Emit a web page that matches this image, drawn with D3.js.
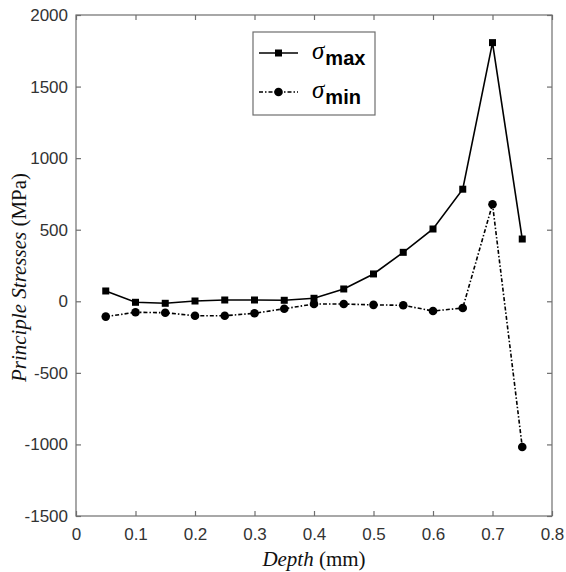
<!DOCTYPE html>
<html><head><meta charset="utf-8">
<script src="https://cdn.jsdelivr.net/npm/d3@7"></script>
<style>body{margin:0;background:#fff}</style>
</head><body>
<svg id="c" width="566" height="572"></svg>
<script>
const depth = [0.05,0.1,0.15,0.2,0.25,0.3,0.35,0.4,0.45,0.5,0.55,0.6,0.65,0.7,0.75];
const sigmaMax = [72,-7,-14,2,9,9,7,21,86,191,342,505,783,1807,435];
const sigmaMin = [-107,-77,-80,-101,-101,-84,-52,-19,-19,-25,-28,-68,-47,678,-1018];
const xTicks = [0,0.1,0.2,0.3,0.4,0.5,0.6,0.7,0.8];
const yTicks = [-1500,-1000,-500,0,500,1000,1500,2000];

const svg = d3.select("#c");
const L=76, R=552, T=15, B=516;
const x = d3.scaleLinear().domain([0,0.8]).range([L,R]);
const y = d3.scaleLinear().domain([-1500,2000]).range([B,T]);
const axisCol = "#6e6e6e", txtCol="#333";

svg.append("rect").attr("x",L).attr("y",T).attr("width",R-L).attr("height",B-T)
  .attr("fill","none").attr("stroke",axisCol).attr("stroke-width",1.2);

const fmtX = d => d===0 ? "0" : d3.format(".1f")(d);
const fmtY = d => String(d);
const xb = svg.append("g").attr("transform",`translate(0,${B})`)
  .call(d3.axisBottom(x).tickValues(xTicks).tickSize(-5).tickPadding(12).tickFormat(fmtX));
const xt = svg.append("g").attr("transform",`translate(0,${T})`)
  .call(d3.axisTop(x).tickValues(xTicks).tickSize(-5).tickFormat(""));
const yl = svg.append("g").attr("transform",`translate(${L},0)`)
  .call(d3.axisLeft(y).tickValues(yTicks).tickSize(-5).tickPadding(8).tickFormat(fmtY));
const yr = svg.append("g").attr("transform",`translate(${R},0)`)
  .call(d3.axisRight(y).tickValues(yTicks).tickSize(-5).tickFormat(""));
[xb,xt,yl,yr].forEach(g=>{
  g.select(".domain").remove();
  g.selectAll(".tick line").attr("stroke",axisCol).attr("stroke-width",1.2);
  g.selectAll(".tick text").attr("fill",txtCol).style("font-family","Liberation Sans, Arial, sans-serif").style("font-size","17px");
});

const line = d3.line().x((d,i)=>x(depth[i])).y(d=>y(d));
svg.append("path").datum(sigmaMax).attr("d",line).attr("fill","none")
  .attr("stroke","#000").attr("stroke-width",1.6);
svg.append("path").datum(sigmaMin).attr("d",line).attr("fill","none")
  .attr("stroke","#000").attr("stroke-width",1.6).attr("stroke-dasharray","4,2,1.5,2");
svg.append("g").selectAll("rect").data(sigmaMax).join("rect")
  .attr("x",(d,i)=>x(depth[i])-3.5).attr("y",d=>y(d)-3.5).attr("width",7).attr("height",7).attr("fill","#000");
svg.append("g").selectAll("circle").data(sigmaMin).join("circle")
  .attr("cx",(d,i)=>x(depth[i])).attr("cy",d=>y(d)).attr("r",4.3).attr("fill","#000");

const lg = svg.append("g");
lg.append("rect").attr("x",253).attr("y",32).attr("width",122).attr("height",83)
  .attr("fill","#fff").attr("stroke",axisCol).attr("stroke-width",1.2);
lg.append("line").attr("x1",259).attr("x2",298).attr("y1",53).attr("y2",53).attr("stroke","#000").attr("stroke-width",1.6);
lg.append("rect").attr("x",275).attr("y",49.5).attr("width",7).attr("height",7).attr("fill","#000");
lg.append("line").attr("x1",259).attr("x2",298).attr("y1",92).attr("y2",92).attr("stroke","#000").attr("stroke-width",1.6).attr("stroke-dasharray","4,2,1.5,2");
lg.append("circle").attr("cx",278.5).attr("cy",92).attr("r",4.3).attr("fill","#000");
const legItems = [["max",53],["min",92]];
legItems.forEach(([s,yy])=>{
  const t = lg.append("text").attr("x",312).attr("y",yy+6).attr("fill","#000");
  t.append("tspan").text("σ").style("font-family","Liberation Serif, Times New Roman, serif").style("font-style","italic").style("font-size","25px");
  t.append("tspan").text(s).attr("dy",6).attr("dx",1).style("font-family","Liberation Sans, Arial, sans-serif").style("font-weight","bold").style("font-size","20px");
});

const xl = svg.append("text").attr("x",(L+R)/2).attr("y",566).attr("text-anchor","middle")
  .style("font-family","Liberation Serif, Times New Roman, serif").style("font-size","21px").attr("fill","#111");
xl.append("tspan").text("Depth").style("font-style","italic");
xl.append("tspan").text(" (mm)");
const ylab = svg.append("text").attr("transform",`translate(26,${(T+B)/2+12}) rotate(-90)`).attr("text-anchor","middle")
  .style("font-family","Liberation Serif, Times New Roman, serif").style("font-size","21px").attr("fill","#111");
ylab.append("tspan").text("Principle Stresses").style("font-style","italic");
ylab.append("tspan").text(" (MPa)");
</script>
</body></html>
